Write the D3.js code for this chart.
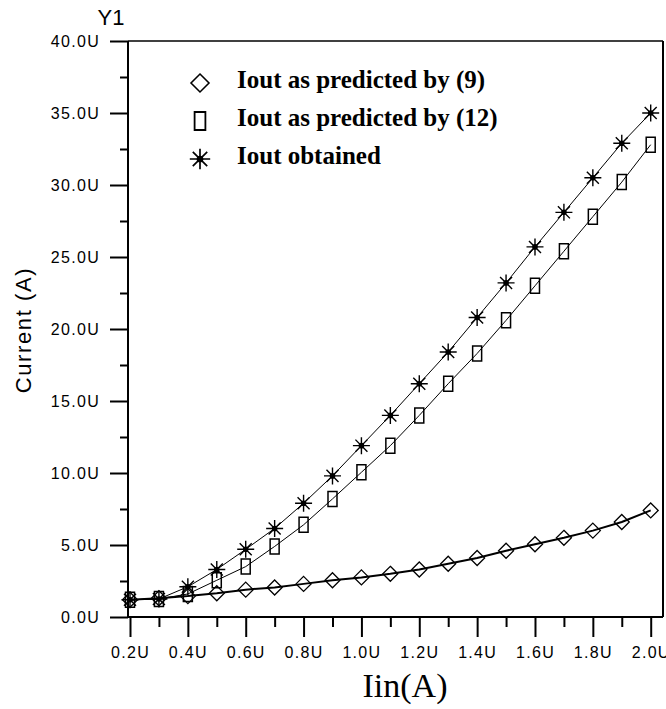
<!DOCTYPE html>
<html>
<head>
<meta charset="utf-8">
<script src="https://cdn.jsdelivr.net/npm/d3@7"></script>
<style>
  html, body { margin: 0; padding: 0; background: #fff; }
  svg { display: block; }
  .tick text { font-family: "Liberation Sans", Arial, sans-serif; font-size: 16px; letter-spacing: 1.3px; fill: #000; }
</style>
</head>
<body>
<svg id="chart" width="666" height="709"></svg>
<script>
// Input current Iin (uA)
const iin = [0.2, 0.3, 0.4, 0.5, 0.6, 0.7, 0.8, 0.9, 1.0, 1.1, 1.2, 1.3, 1.4, 1.5, 1.6, 1.7, 1.8, 1.9, 2.0];
// Output current (uA) predicted by equation (9)
const predicted9 = [1.2, 1.3, 1.45, 1.65, 1.9, 2.05, 2.3, 2.55, 2.75, 3.0, 3.3, 3.7, 4.1, 4.6, 5.05, 5.5, 6.0, 6.6, 7.4];
// Output current (uA) predicted by equation (12)
const predicted12 = [1.2, 1.25, 1.6, 2.55, 3.5, 4.9, 6.4, 8.2, 10.05, 11.9, 14.0, 16.2, 18.3, 20.6, 23.0, 25.4, 27.8, 30.2, 32.8];
// Output current (uA) obtained
const obtained = [1.2, 1.25, 2.1, 3.3, 4.7, 6.15, 7.9, 9.8, 11.9, 14.0, 16.2, 18.4, 20.8, 23.2, 25.7, 28.1, 30.5, 32.9, 35.0];

const xMajorTicks = [0.2, 0.4, 0.6, 0.8, 1.0, 1.2, 1.4, 1.6, 1.8, 2.0];
const xMajorLabels = ["0.2U", "0.4U", "0.6U", "0.8U", "1.0U", "1.2U", "1.4U", "1.6U", "1.8U", "2.0U"];
const xMinorTicks = [0.3, 0.5, 0.7, 0.9, 1.1, 1.3, 1.5, 1.7, 1.9];
const yMajorTicks = [0, 5, 10, 15, 20, 25, 30, 35, 40];
const yMajorLabels = ["0.0U", "5.0U", "10.0U", "15.0U", "20.0U", "25.0U", "30.0U", "35.0U", "40.0U"];
const yMinorTicks = [2.5, 7.5, 12.5, 17.5, 22.5, 27.5, 32.5, 37.5];

const legendLabels = ["Iout as predicted by (9)", "Iout as predicted by (12)", "Iout obtained"];

const svg = d3.select("#chart");

// Plot frame
const frame = { left: 128, right: 663, top: 41, bottom: 617 };

const x = d3.scaleLinear().domain([0.2, 2.0]).range([130, 650.7]);
const y = d3.scaleLinear().domain([0, 40]).range([frame.bottom, frame.top]);

// Frame lines
const fg = svg.append("g").attr("stroke", "#000").attr("fill", "none");
fg.append("line").attr("x1", frame.left).attr("x2", frame.right).attr("y1", frame.top).attr("y2", frame.top).attr("stroke-width", 1.5);
fg.append("line").attr("x1", frame.right).attr("x2", frame.right).attr("y1", frame.top).attr("y2", frame.bottom).attr("stroke-width", 2);
fg.append("line").attr("x1", frame.left).attr("x2", frame.right).attr("y1", frame.bottom).attr("y2", frame.bottom).attr("stroke-width", 2);
fg.append("line").attr("x1", frame.left).attr("x2", frame.left).attr("y1", frame.top).attr("y2", frame.bottom).attr("stroke-width", 2);

// Y axis: major ticks with labels, minor ticks without
const yAxis = svg.append("g").attr("transform", `translate(${frame.left},0)`)
  .call(d3.axisLeft(y).tickValues(yMajorTicks).tickSize(18).tickPadding(10)
    .tickFormat((d, i) => yMajorLabels[i]));
const yMinor = svg.append("g").attr("transform", `translate(${frame.left},0)`)
  .call(d3.axisLeft(y).tickValues(yMinorTicks).tickSize(8).tickFormat(""));

// X axis
const xAxis = svg.append("g").attr("transform", `translate(0,${frame.bottom})`)
  .call(d3.axisBottom(x).tickValues(xMajorTicks).tickSize(20).tickPadding(10)
    .tickFormat((d, i) => xMajorLabels[i]));
const xMinor = svg.append("g").attr("transform", `translate(0,${frame.bottom})`)
  .call(d3.axisBottom(x).tickValues(xMinorTicks).tickSize(10).tickFormat(""));

[yAxis, yMinor, xAxis, xMinor].forEach(g => {
  g.select(".domain").remove();
  g.selectAll(".tick line").attr("stroke", "#000").attr("stroke-width", 2);
});

// Axis titles
svg.append("text").attr("x", 111).attr("y", 25).attr("text-anchor", "middle")
  .attr("font-family", "Liberation Sans, Arial, sans-serif").attr("font-size", 22)
  .text("Y1");
svg.append("text").attr("transform", "translate(31,330) rotate(-90)").attr("text-anchor", "middle")
  .attr("font-family", "Liberation Sans, Arial, sans-serif").attr("font-size", 22)
  .attr("letter-spacing", "1.6px")
  .text("Current (A)");
svg.append("text").attr("x", 405).attr("y", 697).attr("text-anchor", "middle")
  .attr("font-family", "Liberation Serif, Times New Roman, serif").attr("font-size", 34)
  .text("Iin(A)");

// Marker shapes
function diamondPath(r) {
  return `M0,${-r}L${r},0L0,${r}L${-r},0Z`;
}
function rectPath(w, h) {
  return `M${-w / 2},${-h / 2}h${w}v${h}h${-w}Z`;
}
function starPath(r) {
  const d = r * Math.SQRT1_2;
  return `M0,${-r}V${r}M${-r},0H${r}M${-d},${-d}L${d},${d}M${-d},${d}L${d},${-d}`;
}

const pts = (vals) => iin.map((v, i) => [v, vals[i]]);
const line = d3.line().x(d => x(d[0])).y(d => y(d[1]));

const series = [
  { values: predicted9, lineWidth: 2, marker: "diamond" },
  { values: predicted12, lineWidth: 1, marker: "rect" },
  { values: obtained, lineWidth: 1, marker: "star" }
];

const plot = svg.append("g");
series.forEach(s => {
  plot.append("path").datum(pts(s.values))
    .attr("d", line).attr("fill", "none").attr("stroke", "#000").attr("stroke-width", s.lineWidth);
});

function drawMarker(g, kind, cx, cy, scale) {
  const m = g.append("g").attr("transform", `translate(${cx},${cy})`);
  if (kind === "diamond") {
    m.append("path").attr("d", diamondPath(7.5 * scale)).attr("fill", "none")
      .attr("stroke", "#000").attr("stroke-width", 1.3 * scale);
  } else if (kind === "rect") {
    m.append("path").attr("d", rectPath(9 * scale, 15 * scale)).attr("fill", "none")
      .attr("stroke", "#000").attr("stroke-width", 1.5 * scale);
  } else {
    m.append("path").attr("d", starPath(8.5 * scale)).attr("fill", "none")
      .attr("stroke", "#000").attr("stroke-width", 1.4 * scale);
    m.append("circle").attr("r", 2.8 * scale).attr("fill", "#000");
  }
}

series.forEach(s => {
  pts(s.values).forEach(d => drawMarker(plot, s.marker, x(d[0]), y(d[1]), 1));
});

// Legend
const legend = svg.append("g");
const legendRows = [83, 121, 159];
series.forEach((s, i) => {
  drawMarker(legend, s.marker, 200, legendRows[i], 1.2);
  legend.append("text").attr("x", 237).attr("y", legendRows[i] + 5)
    .attr("font-family", "Liberation Serif, Times New Roman, serif")
    .attr("font-weight", "bold").attr("font-size", 25)
    .text(legendLabels[i]);
});
</script>
</body>
</html>
